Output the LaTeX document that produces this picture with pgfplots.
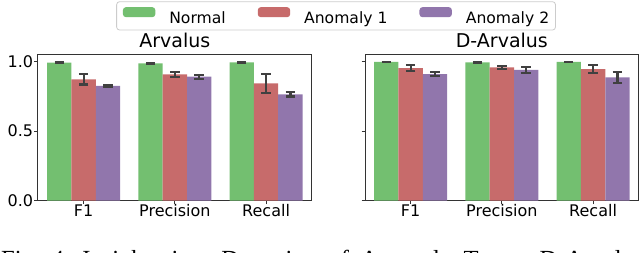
\documentclass[border=0pt]{standalone}
\usepackage{fontspec}
\setmainfont{DejaVu Sans}
\newfontfamily\capfont{Liberation Serif}
\usepackage{pgfplots}
\usepackage{pgfplotstable}
\pgfplotsset{compat=1.18}

\definecolor{cgreen}{RGB}{115,191,112}
\definecolor{cred}{RGB}{199,107,107}
\definecolor{cpurple}{RGB}{145,118,172}
\definecolor{cerr}{RGB}{64,64,64}
\definecolor{cspine}{RGB}{51,51,51}

\pgfplotstableread{
x n ne a ae b be
0 0.993 0.003 0.873 0.037 0.825 0.006
1 0.988 0.003 0.909 0.018 0.892 0.014
2 0.995 0.002 0.844 0.070 0.765 0.016
}\arv

\pgfplotstableread{
x n ne a ae b be
0 0.998 0.002 0.954 0.020 0.911 0.017
1 0.995 0.002 0.959 0.012 0.940 0.020
2 0.998 0.002 0.947 0.030 0.887 0.040
}\darv

\pgfplotsset{
  panel/.style={
    scale only axis,
    width=273.7pt, height=146pt,
    anchor=south west,
    xmin=-0.5, xmax=2.5, ymin=0, ymax=1.05,
    ybar, bar width=24.33pt,
    xtick={0,1,2}, xticklabels={F1,Precision,Recall},
    ytick={0,0.5,1},
    xtick pos=bottom, ytick pos=left,
    tick align=outside, major tick length=3.5pt,
    tick style={line width=0.8pt, color=cspine},
    axis line style={line width=1pt, color=cspine},
    /pgf/number format/assume math mode=true,
    tick label style={font=\fontsize{16}{19}\selectfont},
    xticklabel style={inner sep=0pt, text height=11.7pt, text depth=0pt, yshift=-0.8pt},
    yticklabel style={inner sep=0pt, xshift=-1.2pt},
    title style={font=\fontsize{19}{22}\selectfont, anchor=base, at={(0.5,1)}, yshift=1pt},
    error bars/y dir=both, error bars/y explicit,
    error bars/error mark=|,
    error bars/error bar style={line width=2.2pt, color=cerr},
    error bars/error mark options={line width=2.2pt, mark size=4.7pt, color=cerr},
    legend image code/.code={\fill[##1,draw=none] (0pt,0.7pt) rectangle (32.4pt,10.7pt);},
  },
  sN/.style={fill=cgreen, draw=none, bar shift=-24.33pt},
  sA/.style={fill=cred, draw=none, bar shift=0pt},
  sB/.style={fill=cpurple, draw=none, bar shift=24.33pt},
}

\begin{document}
\begin{tikzpicture}[x=1pt,y=1pt]
\begin{axis}[panel, at={(38pt,52.3pt)}, title={Arvalus},
  yticklabels={0.0,0.5,1.0},
  legend columns=3,
  legend style={at={(1.089,1.266)}, anchor=center,
    draw=black!20, line width=0.8pt, rounded corners=3pt,
    inner xsep=6.3pt, inner ysep=5.5pt,
    font=\fontsize{15.6}{18}\selectfont,
    nodes={inner sep=0pt},
    /tikz/every odd column/.append style={column sep=14pt},
    /tikz/every even column/.append style={column sep=32pt}},
]
\addplot[sN] table[x=x,y=n,y error=ne]{\arv};
\addplot[sA] table[x=x,y=a,y error=ae]{\arv};
\addplot[sB] table[x=x,y=b,y error=be]{\arv};
\legend{Normal,Anomaly 1,Anomaly 2}
\end{axis}
\begin{axis}[panel, at={(365pt,52.3pt)}, title={D-Arvalus},
  yticklabels={}]
\addplot[sN] table[x=x,y=n,y error=ne]{\darv};
\addplot[sA] table[x=x,y=a,y error=ae]{\darv};
\addplot[sB] table[x=x,y=b,y error=be]{\darv};
\end{axis}
\node[anchor=base west, inner sep=0pt] at (1pt,-15pt)
  {\capfont\fontsize{24.6}{30}\selectfont\frenchspacing\spaceskip=11.5pt Fig. 4: Insights into Detection of Anomaly Types. D-Arvalus};
\pgfresetboundingbox
\useasboundingbox (0pt,0pt) rectangle (640pt,253pt);
\end{tikzpicture}
\end{document}
